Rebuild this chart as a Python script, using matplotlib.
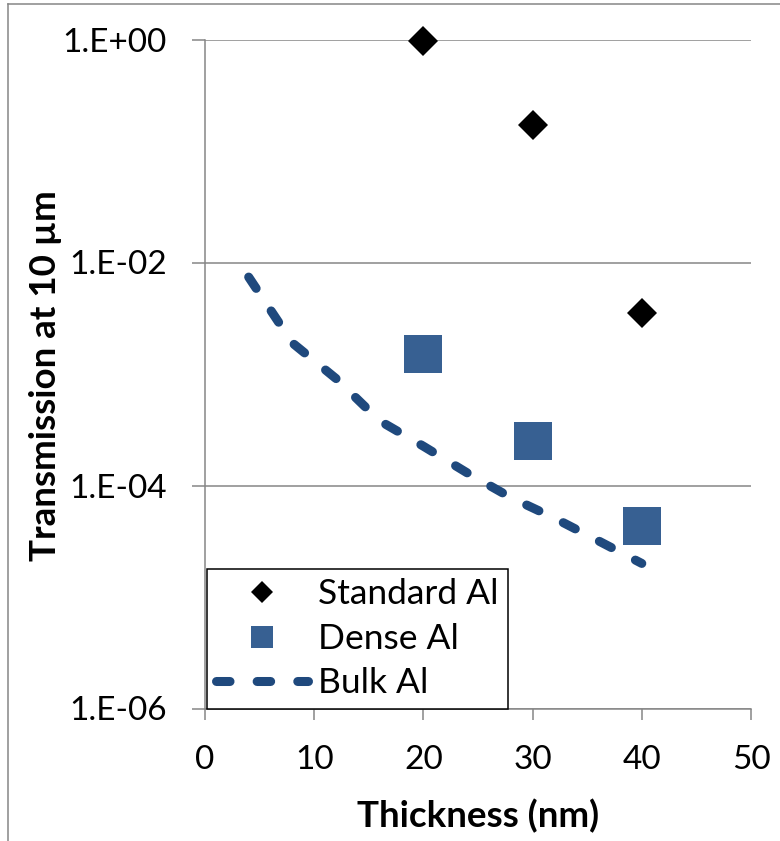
import numpy as np
import matplotlib
matplotlib.use('Agg')
import matplotlib.pyplot as plt
from matplotlib.lines import Line2D
from matplotlib.ticker import FixedLocator, NullLocator

plt.rcParams['font.family'] = ['Lato', 'DejaVu Sans']

# Standard Al (black diamonds)
std_thick = [20, 30, 40]
std_trans = [0.97, 0.17, 3.5e-3]

# Dense Al (blue squares)
dense_thick = [20, 30, 40]
dense_trans = [1.5e-3, 2.5e-4, 4.3e-5]

# Bulk Al (dashed curve)
bulk_thick = [4, 8, 12, 16, 20, 24, 28, 32, 36, 40]
bulk_trans = [7.4e-3, 1.9e-3, 9.1e-4, 3.8e-4, 2.25e-4, 1.3e-4, 7.8e-5, 5.1e-5, 3.2e-5, 2.0e-5]

x_ticks = [0, 10, 20, 30, 40, 50]
y_ticks = [1e-6, 1e-4, 1e-2, 1e0]
y_ticklabels = ['1.E-06', '1.E-04', '1.E-02', '1.E+00']

GRAY = '#868686'
LINE_BLUE = '#1F497D'
SQ_BLUE = '#376092'

W, H = 780, 841
fig = plt.figure(figsize=(W / 100, H / 100), dpi=100)
ax = fig.add_axes([205 / W, 1 - 708.5 / H, 546 / W, 669 / H])

ax.plot(std_thick, std_trans, linestyle='none', marker='D', markersize=15.3,
        color='black', markeredgewidth=0, label='Standard Al', zorder=4, clip_on=False)
ax.plot(dense_thick, dense_trans, linestyle='none', marker='s', markersize=28,
        color=SQ_BLUE, markeredgewidth=0, label='Dense Al', zorder=4, clip_on=False)
ax.plot(bulk_thick, bulk_trans, color=LINE_BLUE, lw=6.5, dashes=(1.5, 3.0),
        dash_capstyle='round', solid_capstyle='round', label='Bulk Al', zorder=3)

ax.set_yscale('log')
ax.set_xlim(0, 50)
ax.set_ylim(1e-6, 1)
ax.xaxis.set_major_locator(FixedLocator(x_ticks))
ax.yaxis.set_major_locator(FixedLocator(y_ticks))
ax.yaxis.set_minor_locator(NullLocator())
ax.set_yticklabels(y_ticklabels)

ax.yaxis.grid(True, color=GRAY, lw=1.1)
ax.set_axisbelow(True)
for s in ['top', 'right']:
    ax.spines[s].set_visible(False)
for s in ['left', 'bottom']:
    ax.spines[s].set_color(GRAY)
    ax.spines[s].set_linewidth(1.1)

ax.tick_params(axis='y', direction='out', length=9.4, width=1.1, color=GRAY,
               pad=18, labelsize=24)
ax.tick_params(axis='x', direction='out', length=8, width=1.1, color=GRAY,
               pad=18, labelsize=24)

ax.set_xlabel('Thickness (nm)', fontsize=26.5, fontweight='bold', va='center')
ax.xaxis.set_label_coords(0.5, (708.5 - 816) / 669)
ax.set_ylabel('Transmission at 10 \u00b5m', fontsize=26.5, fontweight='bold', va='center')
ax.yaxis.set_label_coords((45 - 205) / 546, (708.5 - 375.5) / 669)

leg = ax.legend(loc='lower left', bbox_to_anchor=(0.003, 0.0), borderaxespad=0,
                frameon=True, fancybox=False, edgecolor='black', fontsize=25.5,
                handlelength=2.6, handletextpad=0.28, labelspacing=0.35,
                borderpad=0.26, framealpha=1)
leg.get_frame().set_linewidth(1.1)
leg.legend_handles[0].set_markersize(11.7)
leg.legend_handles[1].set_markersize(16.5)

# chart area border (only left and top edges show)
fig.add_artist(Line2D([8 / W, 8 / W], [0, 1 - 4 / H], transform=fig.transFigure,
                      color=GRAY, lw=1.1))
fig.add_artist(Line2D([8 / W, 1], [1 - 4 / H, 1 - 4 / H], transform=fig.transFigure,
                      color=GRAY, lw=1.1))

fig.savefig('out.png', dpi=100)
